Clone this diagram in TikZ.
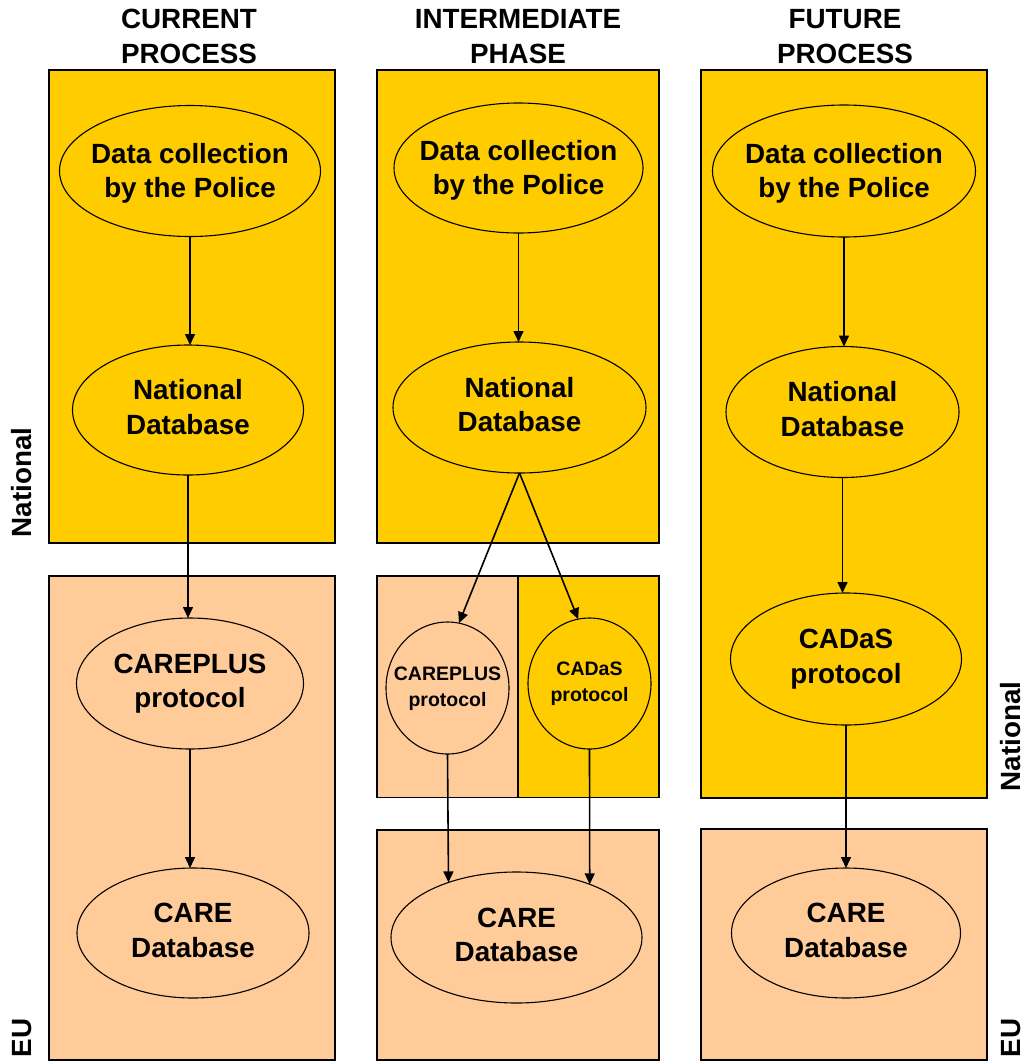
\documentclass[tikz,border=0pt]{standalone}
\usepackage{fontspec}
\setmainfont{Liberation Sans}
\usetikzlibrary{shapes.geometric,arrows.meta}
\definecolor{natyel}{HTML}{FFCC00}
\definecolor{eupeach}{HTML}{FFCC99}
\newcommand\biglbl[1]{\makebox[0pt]{\fontsize{27.8}{34.5}\selectfont\bfseries\begin{tabular}{@{}c@{}}#1\end{tabular}}}
\newcommand\lowbiglbl[1]{\raisebox{-2.5pt}[\height][\depth]{\biglbl{#1}}}
\newcommand\smalllbl[1]{\makebox[0pt]{\fontsize{19.5}{26}\selectfont\bfseries\begin{tabular}{@{}c@{}}#1\end{tabular}}}
\begin{document}
\begin{tikzpicture}[x=1pt,y=-1pt,
  nbox/.style={draw=black,line width=1.1pt,fill=natyel},
  ebox/.style={draw=black,line width=1.1pt,fill=eupeach},
  ell/.style={ellipse,draw=black,line width=1.1pt,inner sep=0pt,outer sep=0pt},
  arr/.style={line width=1.6pt,-{Triangle[length=11pt,width=10pt]}},
  side/.style={rotate=90,inner sep=0pt,font=\fontsize{27.8}{34}\selectfont\bfseries},
  head/.style={inner sep=0pt}]
\fill[white] (0,0) rectangle (1024,1061);
\useasboundingbox (0,0) rectangle (1024,1061);

% boxes
\draw[nbox] (49,70) rectangle (335,543);
\draw[ebox] (49,576) rectangle (335,1060);
\draw[nbox] (377,70) rectangle (659,543);
\draw[ebox] (377,576) rectangle (518,797.5);
\draw[nbox] (518,576) rectangle (659,797.5);
\draw[ebox] (377,830) rectangle (659,1060);
\draw[nbox] (701,70) rectangle (987,798);
\draw[ebox] (701,829) rectangle (987,1060);

% headers
\node[head] (h1) at (189,39) {\biglbl{CURRENT\\PROCESS}};
\node[head] (h2) at (518,39) {\biglbl{INTERMEDIATE\\PHASE}};
\node[head] (h3) at (845,39) {\biglbl{FUTURE\\PROCESS}};

% side labels
\node[side] (natL) at (22,482.5) {National};
\node[side] (euL) at (22,1038) {EU};
\node[side] (natR) at (1011,736.5) {National};
\node[side] (euR) at (1011,1038) {EU};

% column 1
\node[ell,fill=natyel,minimum width=261pt,minimum height=131pt] (dc1) at (190,171) {\lowbiglbl{Data collection\\by the Police}};
\node[ell,fill=natyel,minimum width=231pt,minimum height=130pt] (nd1) at (188,410) {\biglbl{National\\Database}};
\node[ell,fill=eupeach,minimum width=227pt,minimum height=131pt] (cp1) at (190,683.5) {\biglbl{CAREPLUS\\protocol}};
\node[ell,fill=eupeach,minimum width=232pt,minimum height=130pt] (care1) at (193,933) {\biglbl{CARE\\Database}};

% column 2
\node[ell,fill=natyel,minimum width=249pt,minimum height=130pt] (dc2) at (518.5,168) {\lowbiglbl{Data collection\\by the Police}};
\node[ell,fill=natyel,minimum width=253pt,minimum height=131pt] (nd2) at (519.5,407.5) {\biglbl{National\\Database}};
\node[ell,fill=eupeach,minimum width=123pt,minimum height=132pt] (cp2) at (447.5,688) {\smalllbl{CAREPLUS\\protocol}};
\node[ell,fill=natyel,minimum width=123pt,minimum height=131pt] (cd2) at (589.5,683.5) {\smalllbl{CADaS\\protocol}};
\node[ell,fill=eupeach,minimum width=251pt,minimum height=131pt] (care2) at (516.5,937.5) {\biglbl{CARE\\Database}};

% column 3
\node[ell,fill=natyel,minimum width=263pt,minimum height=132pt] (dc3) at (844,171) {\lowbiglbl{Data collection\\by the Police}};
\node[ell,fill=natyel,minimum width=233pt,minimum height=131pt] (nd3) at (842.5,412) {\biglbl{National\\Database}};
\node[ell,fill=natyel,minimum width=231pt,minimum height=132pt] (cd3) at (846,659) {\biglbl{CADaS\\protocol}};
\node[ell,fill=eupeach,minimum width=229pt,minimum height=130pt] (care3) at (846,933) {\biglbl{CARE\\Database}};

% arrows column 1
\draw[arr] (dc1.south) -- (dc1.south |- nd1.north);
\draw[arr] (nd1.south) -- (nd1.south |- cp1.north);
\draw[arr] (cp1.south) -- (cp1.south |- care1.north);

% arrows column 2
\draw[arr] (dc2.south) -- (dc2.south |- nd2.north);
\draw[arr] (nd2.south) -- (cp2.80);
\draw[arr] (nd2.south) -- (cd2.100);
\draw[arr] (cp2.south) -- (care2.141.6);
\draw[arr] (cd2.south) -- (care2.36.1);

% arrows column 3
\draw[arr] (dc3.south) -- (dc3.south |- nd3.north);
\draw[arr] (nd3.south) -- (nd3.south |- cd3.north);
\draw[arr] (cd3.south) -- (cd3.south |- care3.north);
\end{tikzpicture}
\end{document}
